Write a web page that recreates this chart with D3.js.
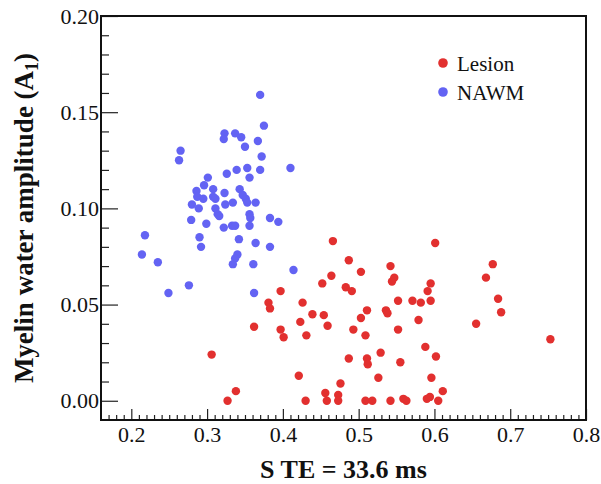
<!DOCTYPE html>
<html>
<head>
<meta charset="utf-8">
<script src="https://cdn.jsdelivr.net/npm/d3@7"></script>
<style>
  body { margin: 0; background: #fff; }
  svg text { font-family: 'Liberation Serif', 'Times New Roman', Tinos, Times, serif !important; }
</style>
</head>
<body>
<div id="chart"></div>
<script>
// NAWM points (S TE ratio, A1)
const nawmX = [0.370, 0.375, 0.323, 0.322, 0.337, 0.345, 0.367, 0.350, 0.372, 0.265,
  0.263, 0.326, 0.339, 0.353, 0.356, 0.370, 0.410, 0.301, 0.296, 0.286,
  0.308, 0.287, 0.295, 0.308, 0.311, 0.323, 0.343, 0.347, 0.351, 0.353,
  0.364, 0.324, 0.334, 0.280, 0.289, 0.311, 0.314, 0.316, 0.356, 0.357,
  0.383, 0.394, 0.279, 0.299, 0.322, 0.333, 0.337, 0.356, 0.218, 0.290,
  0.292, 0.342, 0.364, 0.383, 0.214, 0.235, 0.340, 0.337, 0.334, 0.361,
  0.414, 0.276, 0.249, 0.362];
const nawmY = [0.159, 0.143, 0.139, 0.136, 0.139, 0.137, 0.135, 0.132, 0.127, 0.130,
  0.125, 0.118, 0.120, 0.121, 0.116, 0.120, 0.121, 0.116, 0.112, 0.109,
  0.110, 0.106, 0.105, 0.106, 0.105, 0.108, 0.110, 0.107, 0.105, 0.103,
  0.103, 0.102, 0.103, 0.102, 0.100, 0.100, 0.097, 0.096, 0.097, 0.095,
  0.095, 0.093, 0.094, 0.092, 0.090, 0.091, 0.091, 0.091, 0.086, 0.085,
  0.080, 0.084, 0.082, 0.080, 0.076, 0.072, 0.076, 0.074, 0.071, 0.071,
  0.068, 0.060, 0.056, 0.056];

// Lesion points
const lesionX = [0.466, 0.601, 0.487, 0.542, 0.503, 0.464, 0.452, 0.483, 0.491, 0.544,
  0.547, 0.595, 0.591, 0.397, 0.381, 0.383, 0.426, 0.552, 0.571, 0.582,
  0.595, 0.439, 0.454, 0.511, 0.536, 0.538, 0.362, 0.423, 0.459, 0.503,
  0.579, 0.397, 0.401, 0.431, 0.493, 0.509, 0.552, 0.588, 0.306, 0.487,
  0.511, 0.512, 0.529, 0.555, 0.602, 0.421, 0.526, 0.596, 0.338, 0.327,
  0.476, 0.456, 0.458, 0.473, 0.473, 0.430, 0.509, 0.518, 0.542, 0.559,
  0.563, 0.590, 0.594, 0.605, 0.611, 0.677, 0.668, 0.684, 0.688, 0.655,
  0.753];
const lesionY = [0.083, 0.082, 0.073, 0.070, 0.067, 0.065, 0.061, 0.059, 0.057, 0.062,
  0.064, 0.061, 0.057, 0.057, 0.051, 0.048, 0.051, 0.052, 0.052, 0.051,
  0.052, 0.045, 0.0445, 0.047, 0.047, 0.0455, 0.0385, 0.041, 0.039, 0.043,
  0.042, 0.037, 0.033, 0.034, 0.037, 0.034, 0.037, 0.028, 0.024, 0.022,
  0.022, 0.019, 0.025, 0.020, 0.023, 0.013, 0.012, 0.012, 0.005, 0.000,
  0.009, 0.004, 0.000, 0.003, 0.000, 0.000, 0.000, 0.000, 0.000, 0.001,
  0.000, 0.001, 0.002, 0.000, 0.005, 0.071, 0.064, 0.053, 0.046, 0.040,
  0.032];

const xTicks = [0.2, 0.3, 0.4, 0.5, 0.6, 0.7, 0.8];
const yTicks = [0.00, 0.05, 0.10, 0.15, 0.20];
const seriesNames = ['Lesion', 'NAWM'];
const seriesColors = ['#e2302f', '#6363f3'];

const width = 601, height = 484;
const margin = { top: 16, right: 15, bottom: 64, left: 101 };

const svg = d3.select('#chart').append('svg')
  .attr('width', width).attr('height', height);

const x = d3.scaleLinear().domain([0.16, 0.8]).range([margin.left, width - margin.right]);
const y = d3.scaleLinear().domain([-0.01, 0.20]).range([height - margin.bottom, margin.top]);

const xMinor = d3.range(17, 80).map(d => d / 100).filter(d => Math.round(d * 100) % 10 !== 0);
const yMinor = d3.range(1, 20).map(d => d / 100).filter(d => Math.round(d * 100) % 5 !== 0);

// minor ticks
svg.append('g')
  .attr('transform', `translate(0,${y.range()[0]})`)
  .call(d3.axisBottom(x).tickValues(xMinor).tickSize(-5).tickFormat(''))
  .call(g => g.select('.domain').remove());
svg.append('g')
  .attr('transform', `translate(${x.range()[0]},0)`)
  .call(d3.axisLeft(y).tickValues(yMinor).tickSize(-8).tickFormat(''))
  .call(g => g.select('.domain').remove());

// major ticks
svg.append('g')
  .attr('transform', `translate(0,${y.range()[0]})`)
  .call(d3.axisBottom(x).tickValues(xTicks).tickSize(-11).tickPadding(6).tickFormat(d3.format('.1f')))
  .call(g => g.select('.domain').remove())
  .call(g => g.selectAll('text').attr('font-size', 22).attr('fill', '#111'));
svg.append('g')
  .attr('transform', `translate(${x.range()[0]},0)`)
  .call(d3.axisLeft(y).tickValues(yTicks).tickSize(-17).tickPadding(2).tickFormat(d3.format('.2f')))
  .call(g => g.select('.domain').remove())
  .call(g => g.selectAll('text').attr('font-size', 22).attr('fill', '#111'));

svg.selectAll('.tick line').attr('stroke', '#222').attr('stroke-width', 1.2);

// frame
svg.append('rect')
  .attr('x', x.range()[0]).attr('y', y.range()[1])
  .attr('width', x.range()[1] - x.range()[0])
  .attr('height', y.range()[0] - y.range()[1])
  .attr('fill', 'none').attr('stroke', '#111').attr('stroke-width', 2);

// points
const nawm = nawmX.map((d, i) => ({ x: d, y: nawmY[i] }));
const lesion = lesionX.map((d, i) => ({ x: d, y: lesionY[i] }));

svg.append('g').attr('fill', seriesColors[1])
  .selectAll('circle').data(nawm).join('circle')
  .attr('cx', d => x(d.x)).attr('cy', d => y(d.y)).attr('r', 4.2);
svg.append('g').attr('fill', seriesColors[0])
  .selectAll('circle').data(lesion).join('circle')
  .attr('cx', d => x(d.x)).attr('cy', d => y(d.y)).attr('r', 4.2);

// legend
const legend = svg.append('g').attr('transform', 'translate(443,63)');
seriesNames.forEach((name, i) => {
  legend.append('circle').attr('cx', 0).attr('cy', i * 29).attr('r', 4.8).attr('fill', seriesColors[i]);
  legend.append('text').attr('x', 14).attr('y', i * 29 + 8)
    .attr('font-size', 21).attr('fill', '#111').text(name);
});

// axis titles
svg.append('text')
  .attr('x', (x.range()[0] + x.range()[1]) / 2).attr('y', 478)
  .attr('text-anchor', 'middle').attr('font-size', 26).attr('font-weight', 'bold')
  .attr('fill', '#111').text('S TE = 33.6 ms');

const yTitle = svg.append('text')
  .attr('transform', `translate(33,${(y.range()[0] + y.range()[1]) / 2}) rotate(-90)`)
  .attr('text-anchor', 'middle').attr('font-size', 27).attr('font-weight', 'bold')
  .attr('fill', '#111');
yTitle.append('tspan').text('Myelin water amplitude (A');
yTitle.append('tspan').attr('font-size', 18).attr('dy', 5).text('1');
yTitle.append('tspan').attr('dy', -5).text(')');
</script>
</body>
</html>
